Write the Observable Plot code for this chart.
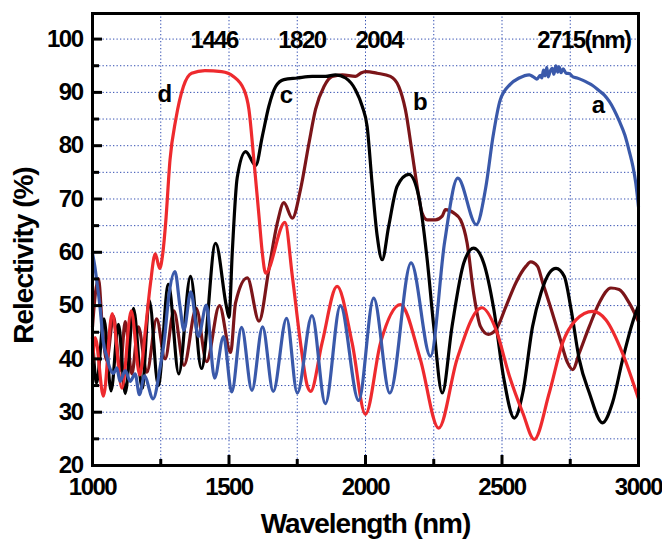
<!DOCTYPE html>
<html>
<head>
<meta charset="utf-8">
<script src="https://cdn.jsdelivr.net/npm/d3@7"></script>
<script src="https://cdn.jsdelivr.net/npm/@observablehq/plot@0.6"></script>
<style>
  html, body { margin: 0; padding: 0; background: #fff; }
  #chart svg text { letter-spacing: -1.5px; }
  #chart svg .title text, #chart svg text.title { letter-spacing: -1px; }
</style>
</head>
<body>
<div id="chart"></div>
<script>
// ---- data (wavelength nm, reflectivity %) ----
const curveA = [ // blue, "a", 2715 nm
  [1000,59.8],[1008,57.5],[1016,54.5],[1028,49.5],[1040,43],[1052,40.5],[1062,38.5],[1077,37.3],[1089,38.3],
  [1101,35.8],[1120,37.8],[1138,35.8],[1156,37.2],[1172,33.3],[1190,36.8],[1222,32.5],[1248,38.5],[1262,43],
  [1280,52],[1302,56.4],[1320,50],[1335,45.4],[1360,52.6],[1388,44.2],[1417,50.1],[1447,36.4],[1480,44.2],
  [1510,33.8],[1546,45.9],[1584,34.1],[1623,46],[1662,33.9],[1711,47.6],[1750,33.6],[1804,48.1],[1853,31.6],
  [1908,50],[1975,32.2],[2030,51.4],[2089,33.6],[2167,58],[2238,40.5],[2290,62],[2338,73.9],[2406,65.2],
  [2440,72],[2468,82],[2493,88.5],[2530,91.5],[2563,92.7],[2600,93.3],[2615,92.9],[2628,92.5],[2640,93.2],
  [2646,92.7],[2652,94.2],[2658,93.1],[2664,94.7],[2669,92.9],[2676,93.9],[2684,94.5],[2690,93.4],[2697,95],
  [2704,93.8],[2709,94.8],[2716,93.7],[2724,94.4],[2735,93.6],[2748,93.5],[2760,92.9],[2775,92.7],[2795,92.3],
  [2815,91.8],[2832,91.3],[2856,90.3],[2875,89.5],[2893,88.3],[2910,86.8],[2929,84.7],[2950,82],[2966,79],
  [2980,76],[2990,73],[3000,68.5]
];
const curveB = [ // dark red, "b", 2004 nm
  [1000,46],[1010,52],[1022,55],[1036,46],[1052,39.7],[1077,48],[1101,37.8],[1120,47],[1144,37.2],[1168,46],
  [1199,37.5],[1235,47.5],[1266,40],[1298,49],[1335,38.8],[1380,49.5],[1418,39.5],[1465,50],[1506,41.2],
  [1524,50.5],[1567,55.2],[1610,47.1],[1646,56.8],[1677,65.5],[1701,69.3],[1732,66.4],[1762,71.8],[1793,80.5],
  [1817,86.8],[1848,91.1],[1878,93],[1915,93.3],[1963,93],[1982,93.6],[2000,93.9],[2043,93.6],[2091,93],
  [2122,91.1],[2146,86.8],[2171,78.6],[2189,72.4],[2207,67.4],[2226,66.1],[2256,66.1],[2281,66.8],[2293,68],
  [2323,67.4],[2348,66.1],[2372,61.8],[2396,52.4],[2421,46.1],[2450,44.6],[2478,45.5],[2515,49.9],[2551,54.3],
  [2588,57.4],[2605,58.2],[2630,57.4],[2649,54.3],[2673,50.5],[2710,44.3],[2740,39.3],[2759,38],[2783,41.1],
  [2820,46.1],[2856,50.5],[2899,53.3],[2929,53],[2966,50.5],[3000,47]
];
const curveC = [ // black, "c", 1820 nm
  [1000,44],[1015,35.5],[1042,47.5],[1068,34],[1095,46.5],[1120,33.5],[1150,49.5],[1182,34.5],[1208,51],
  [1241,35],[1278,54],[1316,37.2],[1359,55.5],[1399,38.2],[1451,61.7],[1490,50],[1500,47.8],[1512,60],
  [1530,74],[1561,78.9],[1598,76.3],[1622,81.75],[1646,87.4],[1671,91.1],[1701,92.4],[1750,92.7],[1805,93],
  [1854,93],[1890,93.3],[1927,92.7],[1963,90.5],[1988,87.4],[2006,83.6],[2024,73],[2043,63],[2061,58.6],
  [2085,64.9],[2116,72.4],[2159,74.6],[2195,70.5],[2226,58.6],[2250,46.1],[2281,33.6],[2317,46.1],[2360,58],
  [2396,60.8],[2433,58],[2470,49.3],[2506,36.5],[2545,28.9],[2576,33.6],[2612,46.1],[2643,52.4],[2673,56.1],
  [2698,57],[2728,55.5],[2753,49.3],[2783,39.9],[2820,33.6],[2868,28],[2905,31.8],[2942,39.9],[2978,46.8],[3000,50]
];
const curveD = [ // red, "d", 1446 nm
  [1000,39],[1010,44],[1040,33],[1072,48.5],[1108,34.5],[1142,49],[1173,37],[1195,46],[1212,54],[1230,59.7],
  [1246,57],[1258,60],[1268,65.5],[1284,77.4],[1305,84.9],[1333,91.1],[1363,93.6],[1412,94.1],[1473,93.9],
  [1516,93],[1555,90.5],[1573,86.8],[1591,77.4],[1610,66.7],[1622,59.9],[1634,56.1],[1705,65.6],[1732,55.5],
  [1762,43],[1787,34.9],[1799,33.9],[1841,43],[1896,53.6],[1951,43],[2000,29.6],[2055,43],[2128,50.2],
  [2201,39.9],[2268,27],[2335,39.9],[2426,49.6],[2478,45.5],[2527,36.8],[2576,29.9],[2618,24.9],[2673,33.6],
  [2722,43],[2771,47.3],[2832,48.9],[2881,47.3],[2942,41],[3000,32.5]
];

const xTicks = [1000, 1500, 2000, 2500, 3000];
const xMinorTicks = [1250, 1750, 2250, 2750];
const xGridLines = [1250, 1500, 1750, 2000, 2250, 2500, 2750];
const yTicks = [20, 30, 40, 50, 60, 70, 80, 90, 100];
const yMinorTicks = [25, 35, 45, 55, 65, 75, 85, 95];
const yGridLines = [25, 30, 35, 40, 45, 50, 55, 60, 65, 70, 75, 80, 85, 90, 95, 100];

const peakLabels = ["1446", "1820", "2004", "2715(nm)"];
const peakLabelX = [1446, 1767, 2050, 2800];
const curveLabels = ["d", "c", "b", "a"];
const curveLabelX = [1262, 1708, 2198, 2850];
const curveLabelY = [89.55, 89.36, 88.05, 87.5];

const xTitle = "Wavelength (nm)";
const yTitle = "Relectivity (%)";

const colors = {a: "#3a59aa", b: "#7b1519", c: "#000000", d: "#ee2a2e"};

// ---- layout ----
const W = 662, H = 539, mL = 92, mR = 24, mT = 13, mB = 74;
const plotH = H - mT - mB, plotW = W - mL - mR;
const gridStyle = {stroke: "#2f4bb0", strokeOpacity: 1, strokeWidth: 1, strokeDasharray: "1.3,2.2"};
const lineOpts = (data, c) => Plot.line(data, {x: d => d[0], y: d => d[1], stroke: c, strokeWidth: 3.2, curve: "monotone-x"});

const peakData = peakLabels.map((t, i) => ({t, x: peakLabelX[i]}));
const curveLabelData = curveLabels.map((t, i) => ({t, x: curveLabelX[i], y: curveLabelY[i]}));

const chart = Plot.plot({
  width: W, height: H,
  marginLeft: mL, marginRight: mR, marginTop: mT, marginBottom: mB,
  style: {fontFamily: "'Liberation Sans', Arial, sans-serif", fontWeight: "bold", background: "#fff", color: "#000"},
  x: {domain: [1000, 3000]},
  y: {domain: [20, 104.8]},
  marks: [
    Plot.gridX(xGridLines, gridStyle),
    Plot.gridY(yGridLines, gridStyle),
    lineOpts(curveB, colors.b),
    lineOpts(curveC, colors.c),
    lineOpts(curveD, colors.d),
    lineOpts(curveA, colors.a),
    Plot.tickX(xTicks, {x: d => d, insetTop: plotH - 10, stroke: "#000", strokeWidth: 3}),
    Plot.tickX(xMinorTicks, {x: d => d, insetTop: plotH - 6, stroke: "#000", strokeWidth: 3}),
    Plot.tickY(yTicks, {y: d => d, insetRight: plotW - 10, stroke: "#000", strokeWidth: 3}),
    Plot.tickY(yMinorTicks, {y: d => d, insetRight: plotW - 7, stroke: "#000", strokeWidth: 3}),
    Plot.axisX({ticks: xTicks, tickFormat: d => String(d), tickSize: 0, tickPadding: 12, fontSize: 24, fontWeight: "bold", label: null, fill: "#000"}),
    Plot.axisY({ticks: yTicks, tickFormat: d => String(d), tickSize: 0, tickPadding: 10, fontSize: 24, fontWeight: "bold", label: null, fill: "#000"}),
    Plot.text(peakData, {x: "x", y: () => 99.7, text: "t", fontSize: 24, fontWeight: "bold", fill: "#000"}),
    Plot.text(curveLabelData, {x: "x", y: "y", text: "t", fontSize: 24, fontWeight: "bold", fill: "#000"}),
    Plot.text([xTitle], {text: d => d, frameAnchor: "bottom", textAnchor: "middle", lineAnchor: "middle", dy: 59, fontSize: 28, fontWeight: "bold", fill: "#000", className: "title"}),
    Plot.text([yTitle], {text: d => d, frameAnchor: "left", textAnchor: "middle", lineAnchor: "middle", dx: -68, dy: 16, rotate: -90, fontSize: 28, fontWeight: "bold", fill: "#000", className: "title"}),
    Plot.frame({stroke: "#000", strokeWidth: 3})
  ]
});
document.getElementById("chart").appendChild(chart);
</script>
</body>
</html>
